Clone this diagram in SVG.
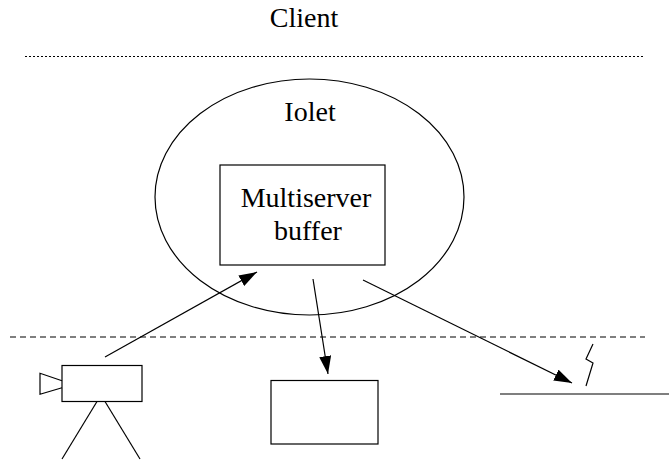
<svg xmlns="http://www.w3.org/2000/svg" width="669" height="460" viewBox="0 0 669 460">
  <style>
    .ln { fill: none; stroke: #000; stroke-width: 1.2; }
    .shape { fill: #fff; stroke: #000; stroke-width: 1.2; }
    .lbl { font-family: "Liberation Serif", "Times New Roman", serif; font-size: 28px; fill: #000; text-anchor: middle; }
  </style>
  <defs>
    <marker id="head" markerUnits="userSpaceOnUse" markerWidth="19" markerHeight="12" refX="18" refY="6" orient="auto">
      <path d="M0,0 L18,6 L0,12 Z" fill="#000"/>
    </marker>
  </defs>

  <rect width="669" height="460" fill="#fff"/>

  <!-- tier labels and separators -->
  <g id="client">
    <text class="lbl" x="304" y="27">Client</text>
    <line class="ln" x1="25" y1="56.5" x2="645" y2="56.5" stroke-dasharray="2,2"/>
  </g>
  <g id="network-divider">
    <line class="ln" x1="10" y1="337" x2="645" y2="337" stroke-dasharray="6,4"/>
  </g>

  <!-- Iolet with its buffer -->
  <g id="iolet">
    <ellipse class="ln" cx="309.5" cy="197" rx="154.5" ry="118"/>
    <text class="lbl" x="310" y="121">Iolet</text>
  </g>
  <g id="buffer">
    <rect class="shape" x="220" y="165" width="165" height="100"/>
    <text class="lbl" x="306" y="207">Multiserver</text>
    <text class="lbl" x="308" y="240">buffer</text>
  </g>

  <!-- camera source -->
  <g id="camera">
    <rect class="shape" x="62" y="365.5" width="80" height="36"/>
    <polyline class="ln" points="62,380.7 40,373.3 40,394.3 62,387.7"/>
    <line class="ln" x1="97" y1="401.5" x2="62" y2="459"/>
    <line class="ln" x1="105" y1="401.5" x2="140" y2="459"/>
  </g>

  <!-- display sink -->
  <g id="display">
    <rect class="shape" x="271" y="380.5" width="107" height="63.5"/>
  </g>

  <!-- wireless link -->
  <g id="wireless">
    <polyline class="ln" points="593,344 586,359 593,363 586,386"/>
    <line class="ln" x1="500" y1="394" x2="669" y2="394"/>
  </g>

  <!-- data flows -->
  <g id="connectors">
    <line class="ln" x1="105" y1="357" x2="257" y2="272" marker-end="url(#head)"/>
    <line class="ln" x1="313" y1="279" x2="328" y2="374" marker-end="url(#head)"/>
    <line class="ln" x1="363" y1="280" x2="572" y2="383" marker-end="url(#head)"/>
  </g>
</svg>
